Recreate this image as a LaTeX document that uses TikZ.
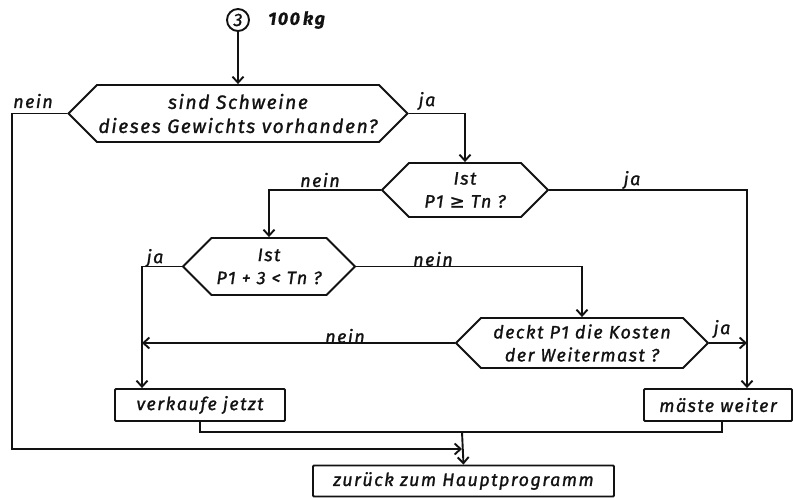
\documentclass[tikz,border=0pt]{standalone}
\usepackage{fontspec}
\setmainfont{Fira Sans}[LetterSpace=8, ItalicFeatures={FakeBold=1.2}, BoldItalicFeatures={FakeBold=0.6}]
\newfontfamily\fcsym{DejaVu Sans}[FakeBold=1.2]
\usepackage{tikz}
\usetikzlibrary{arrows.meta,positioning,shapes.symbols}
\definecolor{fcink}{RGB}{18,18,18}
\newcommand{\fcfont}{\fontsize{18}{23}\selectfont\itshape}
\newcommand{\fcbig}{\fontsize{19.3}{24}\selectfont\itshape}
\tikzset{
  fcq/.style={
    signal, signal to=east and west, signal pointer angle=90,
    draw=fcink, line width=1.9pt, align=center, inner sep=0pt,
    font=\fcfont, text=fcink
  },
  fcbox/.style={
    draw=fcink, line width=1.9pt, rounded corners=1pt, align=center,
    inner sep=0pt, minimum height=32pt, font=\fcfont, text=fcink
  },
  fcdot/.style={circle, draw=fcink, line width=1.9pt, minimum size=22pt,
    inner sep=0pt, font=\fcfont, text=fcink},
  lbl/.style={font=\fcfont, text=fcink, inner sep=0pt},
  arr/.style={-{Straight Barb[length=6pt,width=11pt,line width=1.9pt]}, draw=fcink, line width=1.9pt},
  ln/.style={draw=fcink, line width=1.9pt},
  every picture/.append style={line join=miter}
}
\begin{document}
\begin{tikzpicture}[x=1pt,y=-1pt]
  \useasboundingbox (0,0) rectangle (793,498);
  % connector and decisions
  \node[fcdot] (c3) at (238,20) {3};
  \node[lbl, anchor=west, font=\fcfont\bfseries] (kg) at (268,20) {100\,kg};
  \node[fcq, minimum width=339pt, minimum height=57pt, font=\fcbig] (q1) at (238,113.5) {sind Schweine\\dieses Gewichts vorhanden?};
  \node[fcq, minimum width=166pt, minimum height=54pt] (q2) at (465,190) {Ist\\P1 {\fcsym≥} Tn ?};
  \node[fcq, minimum width=172pt, minimum height=57pt] (q3) at (269,266.5) {Ist\\P1 + 3 < Tn ?};
  \node[fcq, minimum width=252pt, minimum height=50pt] (q4) at (582,343) {deckt P1 die Kosten\\der Weitermast ?};
  % actions
  \node[fcbox, minimum width=170pt] (vj) at (200,405) {verkaufe jetzt};
  \node[fcbox, minimum width=148pt] (mw) at (718,405) {mäste weiter};
  \node[fcbox, minimum width=301pt, minimum height=31pt] (ret) at (463.5,481) {zurück zum Hauptprogramm};
  % branch labels
  \node[lbl] (n1) at (33,101) {nein};
  \node[lbl] (j1) at (427,101) {ja};
  \node[lbl] (n2) at (320,180) {nein};
  \node[lbl] (j2) at (632,180) {ja};
  \node[lbl] (j3) at (155,258) {ja};
  \node[lbl] (n3) at (433,259) {nein};
  \node[lbl] (n4) at (345,336) {nein};
  \node[lbl] (j4) at (722,329) {ja};
  % junction points
  \coordinate (lx) at (12,0);
  \coordinate (lj) at ([xshift=-58pt]vj.north);
  \coordinate (rj) at ([xshift=29pt]mw.north);
  \coordinate (jt) at (462,432);
  \coordinate (mrg) at (462,449);
  \draw[arr] (c3) -- (q1.north);
  \draw[arr] (q1.east) -| (q2.north);
  \draw[arr] (q1.west) -- (q1.west -| lx) |- (mrg);
  \draw[arr] (q2.west) -| (q3.north);
  \draw[arr] (q2.east) -| (rj);
  \draw[arr] (q3.west) -| (lj);
  \draw[arr] (q3.east) -| (q4.north);
  \draw[arr] (q4.west) -- (q4.west -| lj);
  \draw[arr] (q4.east) -- (q4.east -| rj);
  \draw[ln] (vj.south) |- (jt) -| ([xshift=4pt]mw.south);
  \draw[arr] (jt) -- (ret.north);
\end{tikzpicture}
\end{document}
